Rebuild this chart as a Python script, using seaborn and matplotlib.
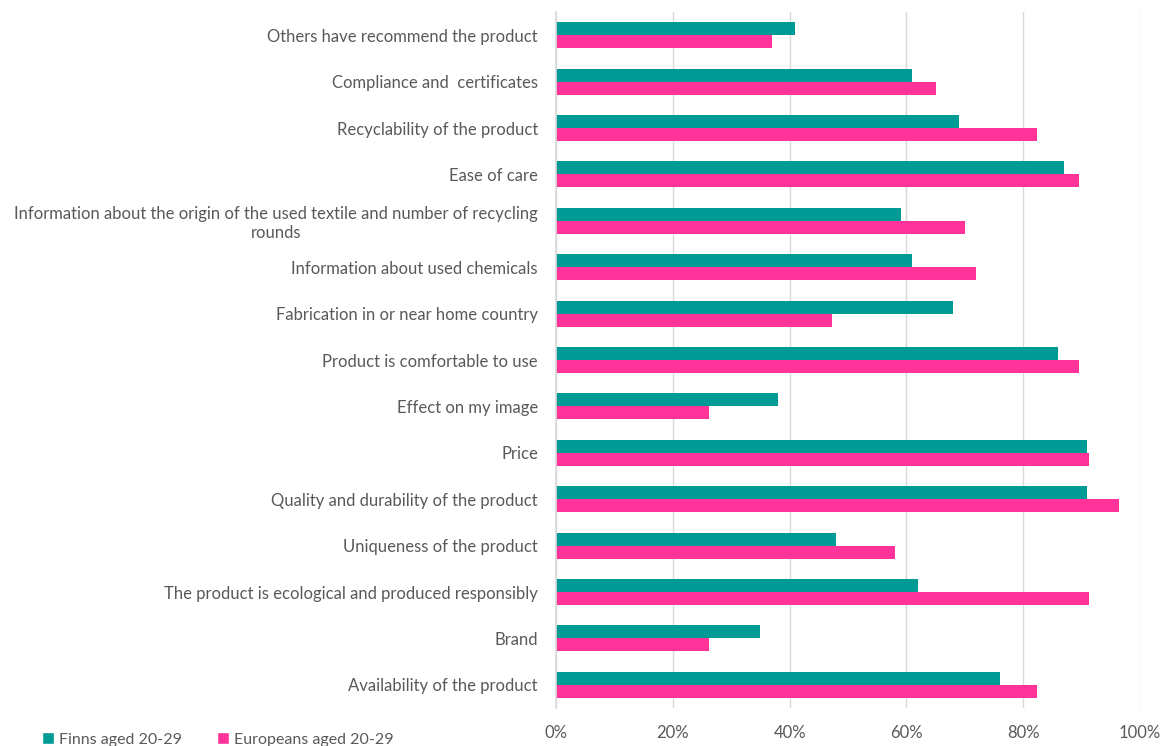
import matplotlib
matplotlib.use("Agg")
import matplotlib.pyplot as plt
import seaborn as sns
import pandas as pd
from matplotlib.ticker import PercentFormatter
from matplotlib.patches import Patch

categories = [
    "Others have recommend the product",
    "Compliance and  certificates",
    "Recyclability of the product",
    "Ease of care",
    "Information about the origin of the used textile and number of recycling\nrounds",
    "Information about used chemicals",
    "Fabrication in or near home country",
    "Product is comfortable to use",
    "Effect on my image",
    "Price",
    "Quality and durability of the product",
    "Uniqueness of the product",
    "The product is ecological and produced responsibly",
    "Brand",
    "Availability of the product",
]
finns = [41, 61, 69, 87, 59, 61, 68, 86, 38, 91, 91, 48, 62, 35, 76]
europeans = [37, 65, 82.4, 89.5, 70, 72, 47.3, 89.5, 26.2, 91.2, 96.4, 58, 91.2, 26.2, 82.4]
series_names = ["Finns aged 20-29", "Europeans aged 20-29"]
colors = ["#009B95", "#FF3399"]
xticks = [0, 20, 40, 60, 80, 100]

df = pd.DataFrame({
    "category": categories * 2,
    "value": finns + europeans,
    "series": [series_names[0]] * len(categories) + [series_names[1]] * len(categories),
})

sns.set_theme(style="white")
plt.rcParams['font.family'] = ['Lato', 'DejaVu Sans']

fig = plt.figure(figsize=(11.71, 7.46), dpi=100)
ax = fig.add_axes([556 / 1171, 1 - 708 / 746, (1140 - 556) / 1171, (708 - 12) / 746])

sns.barplot(data=df, y="category", x="value", hue="series", order=categories,
            hue_order=series_names, palette=colors, orient="h", width=0.56,
            gap=0, ax=ax, legend=False, saturation=1, linewidth=0)

ax.set_xlim(0, 100)
ax.set_ylim(len(categories) - 0.5, -0.5)
ax.set_xticks(xticks)
ax.xaxis.set_major_formatter(PercentFormatter(decimals=0))
ax.grid(axis="x", color="#D9D9D9", linewidth=1)
ax.set_axisbelow(True)
for s in ["top", "right", "bottom"]:
    ax.spines[s].set_visible(False)
ax.spines["left"].set_color("#D9D9D9")
ax.set_xlabel("")
ax.set_ylabel("")
ax.tick_params(axis="both", length=0, labelsize=12, labelcolor="#595959")
ax.tick_params(axis="x", pad=12)
ax.tick_params(axis="y", pad=13)
for lbl in ax.get_yticklabels():
    lbl.set_multialignment("center")

handles = [Patch(facecolor=c, label=n) for c, n in zip(colors, series_names)]
fig.legend(handles=handles, loc="lower left", bbox_to_anchor=(0.024, -0.02), ncol=2,
           frameon=False, fontsize=11.5, handlelength=0.7, handleheight=0.7,
           handletextpad=0.35, columnspacing=2.2, labelcolor="#595959")

fig.savefig("out.png", dpi=100)
